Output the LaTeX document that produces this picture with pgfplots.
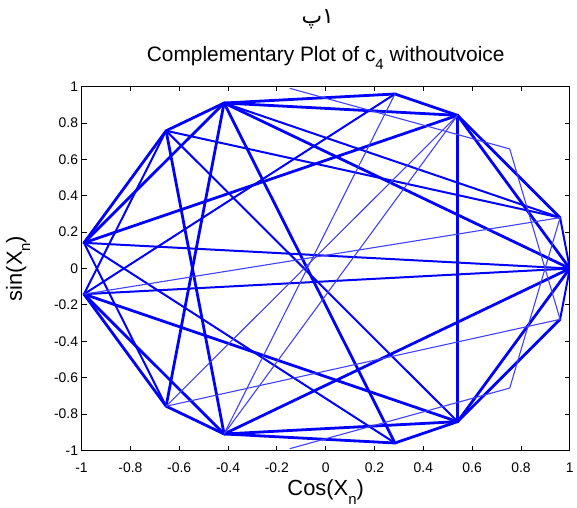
\documentclass[border=0pt]{standalone}
\usepackage{pgfplots}
\pgfplotsset{compat=1.18}
\usepackage{fontspec}
\setmainfont{Liberation Sans}
\newfontfamily\arabicfont[Script=Arabic]{DejaVu Sans}
\TeXXeTstate=1
\newcommand{\sub}[1]{\raisebox{-0.38em}{\fontsize{15}{15}\selectfont #1}}
\begin{document}
\begin{tikzpicture}
\begin{axis}[
  scale only axis, width=491pt, height=366pt,
  xmin=-1, xmax=1, ymin=-1, ymax=1,
  xtick={-1,-0.8,...,1.01}, ytick={-1,-0.8,...,1.01},
  tick align=inside, major tick length=5pt,
  tick style={black, line width=0.8pt},
  axis line style={black, line width=1.1pt},
  /pgf/number format/assume math mode=true,
  /pgf/number format/fixed,
  ticklabel style={font=\fontsize{14}{14}\selectfont},
  xticklabel style={yshift=-9pt},
  xlabel={Cos(X\sub{n})},
  ylabel={sin(X\sub{n})},
  label style={font=\fontsize{22}{22}\selectfont},
  xlabel style={at={(axis description cs:0.5,0)}, anchor=north, yshift=-26pt},
  ylabel style={at={(axis description cs:-0.098,0.5)}, anchor=south},
  T/.style={blue, line width=2.8pt, line join=round, line cap=round},
  M/.style={blue, line width=2.0pt, line join=round, line cap=round},
  S/.style={blue!75, line width=1.1pt, line join=round, line cap=round},
]
% thick chords
\addplot[T] coordinates {(-0.4161,0.9093) (0.2837,0.9589)};
\addplot[T] coordinates {(-0.4161,-0.9093) (0.2837,-0.9589)};
\addplot[T] coordinates {(-0.4161,0.9093) (0.5403,0.8415)};
\addplot[T] coordinates {(-0.4161,-0.9093) (0.5403,-0.8415)};
\addplot[T] coordinates {(-0.4161,0.9093) (-0.6536,-0.7568)};
\addplot[T] coordinates {(-0.4161,-0.9093) (-0.6536,0.7568)};
\addplot[T] coordinates {(-0.4161,0.9093) (1.0000,0.0000)};
\addplot[T] coordinates {(-0.4161,-0.9093) (1.0000,0.0000)};
\addplot[T] coordinates {(-0.4161,0.9093) (0.2837,-0.9589)};
\addplot[M] coordinates {(-0.4161,0.9093) (0.9602,0.2794)};
\addplot[T] coordinates {(-0.9900,0.1411) (-0.4161,0.9093)};
\addplot[T] coordinates {(-0.9900,-0.1411) (-0.4161,-0.9093)};
\addplot[T] coordinates {(-0.9900,0.1411) (-0.6536,0.7568)};
\addplot[T] coordinates {(-0.9900,-0.1411) (-0.6536,-0.7568)};
\addplot[M] coordinates {(-0.9900,0.1411) (-0.6536,-0.7568)};
\addplot[M] coordinates {(-0.9900,-0.1411) (-0.6536,0.7568)};
\addplot[T] coordinates {(-0.6536,0.7568) (-0.4161,0.9093)};
\addplot[T] coordinates {(-0.6536,-0.7568) (-0.4161,-0.9093)};
\addplot[T] coordinates {(0.5403,0.8415) (0.5403,-0.8415)};
\addplot[T] coordinates {(0.2837,0.9589) (0.5403,0.8415)};
\addplot[T] coordinates {(0.2837,-0.9589) (0.5403,-0.8415)};
\addplot[T] coordinates {(0.5403,0.8415) (0.9602,0.2794)};
\addplot[T] coordinates {(0.5403,-0.8415) (0.9602,-0.2794)};
\addplot[T] coordinates {(0.5403,0.8415) (1.0000,0.0000)};
\addplot[T] coordinates {(0.5403,-0.8415) (1.0000,0.0000)};
\addplot[M] coordinates {(-0.9900,0.1411) (1.0000,0.0000)};
\addplot[M] coordinates {(-0.9900,-0.1411) (1.0000,0.0000)};
\addplot[T] coordinates {(-0.9900,0.1411) (0.5403,0.8415)};
\addplot[T] coordinates {(-0.9900,-0.1411) (0.5403,-0.8415)};
\addplot[M] coordinates {(-0.9900,0.1411) (0.2837,-0.9589)};
\addplot[M] coordinates {(-0.9900,-0.1411) (0.2837,0.9589)};
\addplot[M] coordinates {(-0.6536,0.7568) (0.9602,0.2794)};
\addplot[M] coordinates {(-0.6536,0.7568) (0.5403,-0.8415)};
\addplot[M] coordinates {(0.9602,0.2794) (1.0000,0.0000)};
\addplot[M] coordinates {(0.9602,-0.2794) (1.0000,0.0000)};
% thin chords
\addplot[S] coordinates {(-0.6536,-0.7568) (0.5403,0.8415)};
\addplot[S] coordinates {(-0.1455,0.9894) (0.7539,0.6570) (0.9602,-0.2794) (-0.6536,-0.7568)};
\addplot[S] coordinates {(-0.1455,-0.9894) (0.7539,-0.6570) (0.9602,0.2794) (-0.9900,-0.1411)};
\addplot[S] coordinates {(-0.4161,-0.9093) (0.2837,0.9589)};
\addplot[S] coordinates {(0.5403,0.8415) (-0.4161,-0.9093)};
\end{axis}
\node[font=\fontsize{22}{22}\selectfont] at ([xshift=-8pt,yshift=68pt]current axis.north) {\arabicfont\beginR ۱پ\endR};
\node[font=\fontsize{21}{21}\selectfont] at ([yshift=29pt]current axis.north) {Complementary Plot of c\sub{4} withoutvoice};
\path ([xshift=-82pt,yshift=-57pt]current axis.south west) rectangle ([xshift=4pt,yshift=87pt]current axis.north east);
\end{tikzpicture}
\end{document}
